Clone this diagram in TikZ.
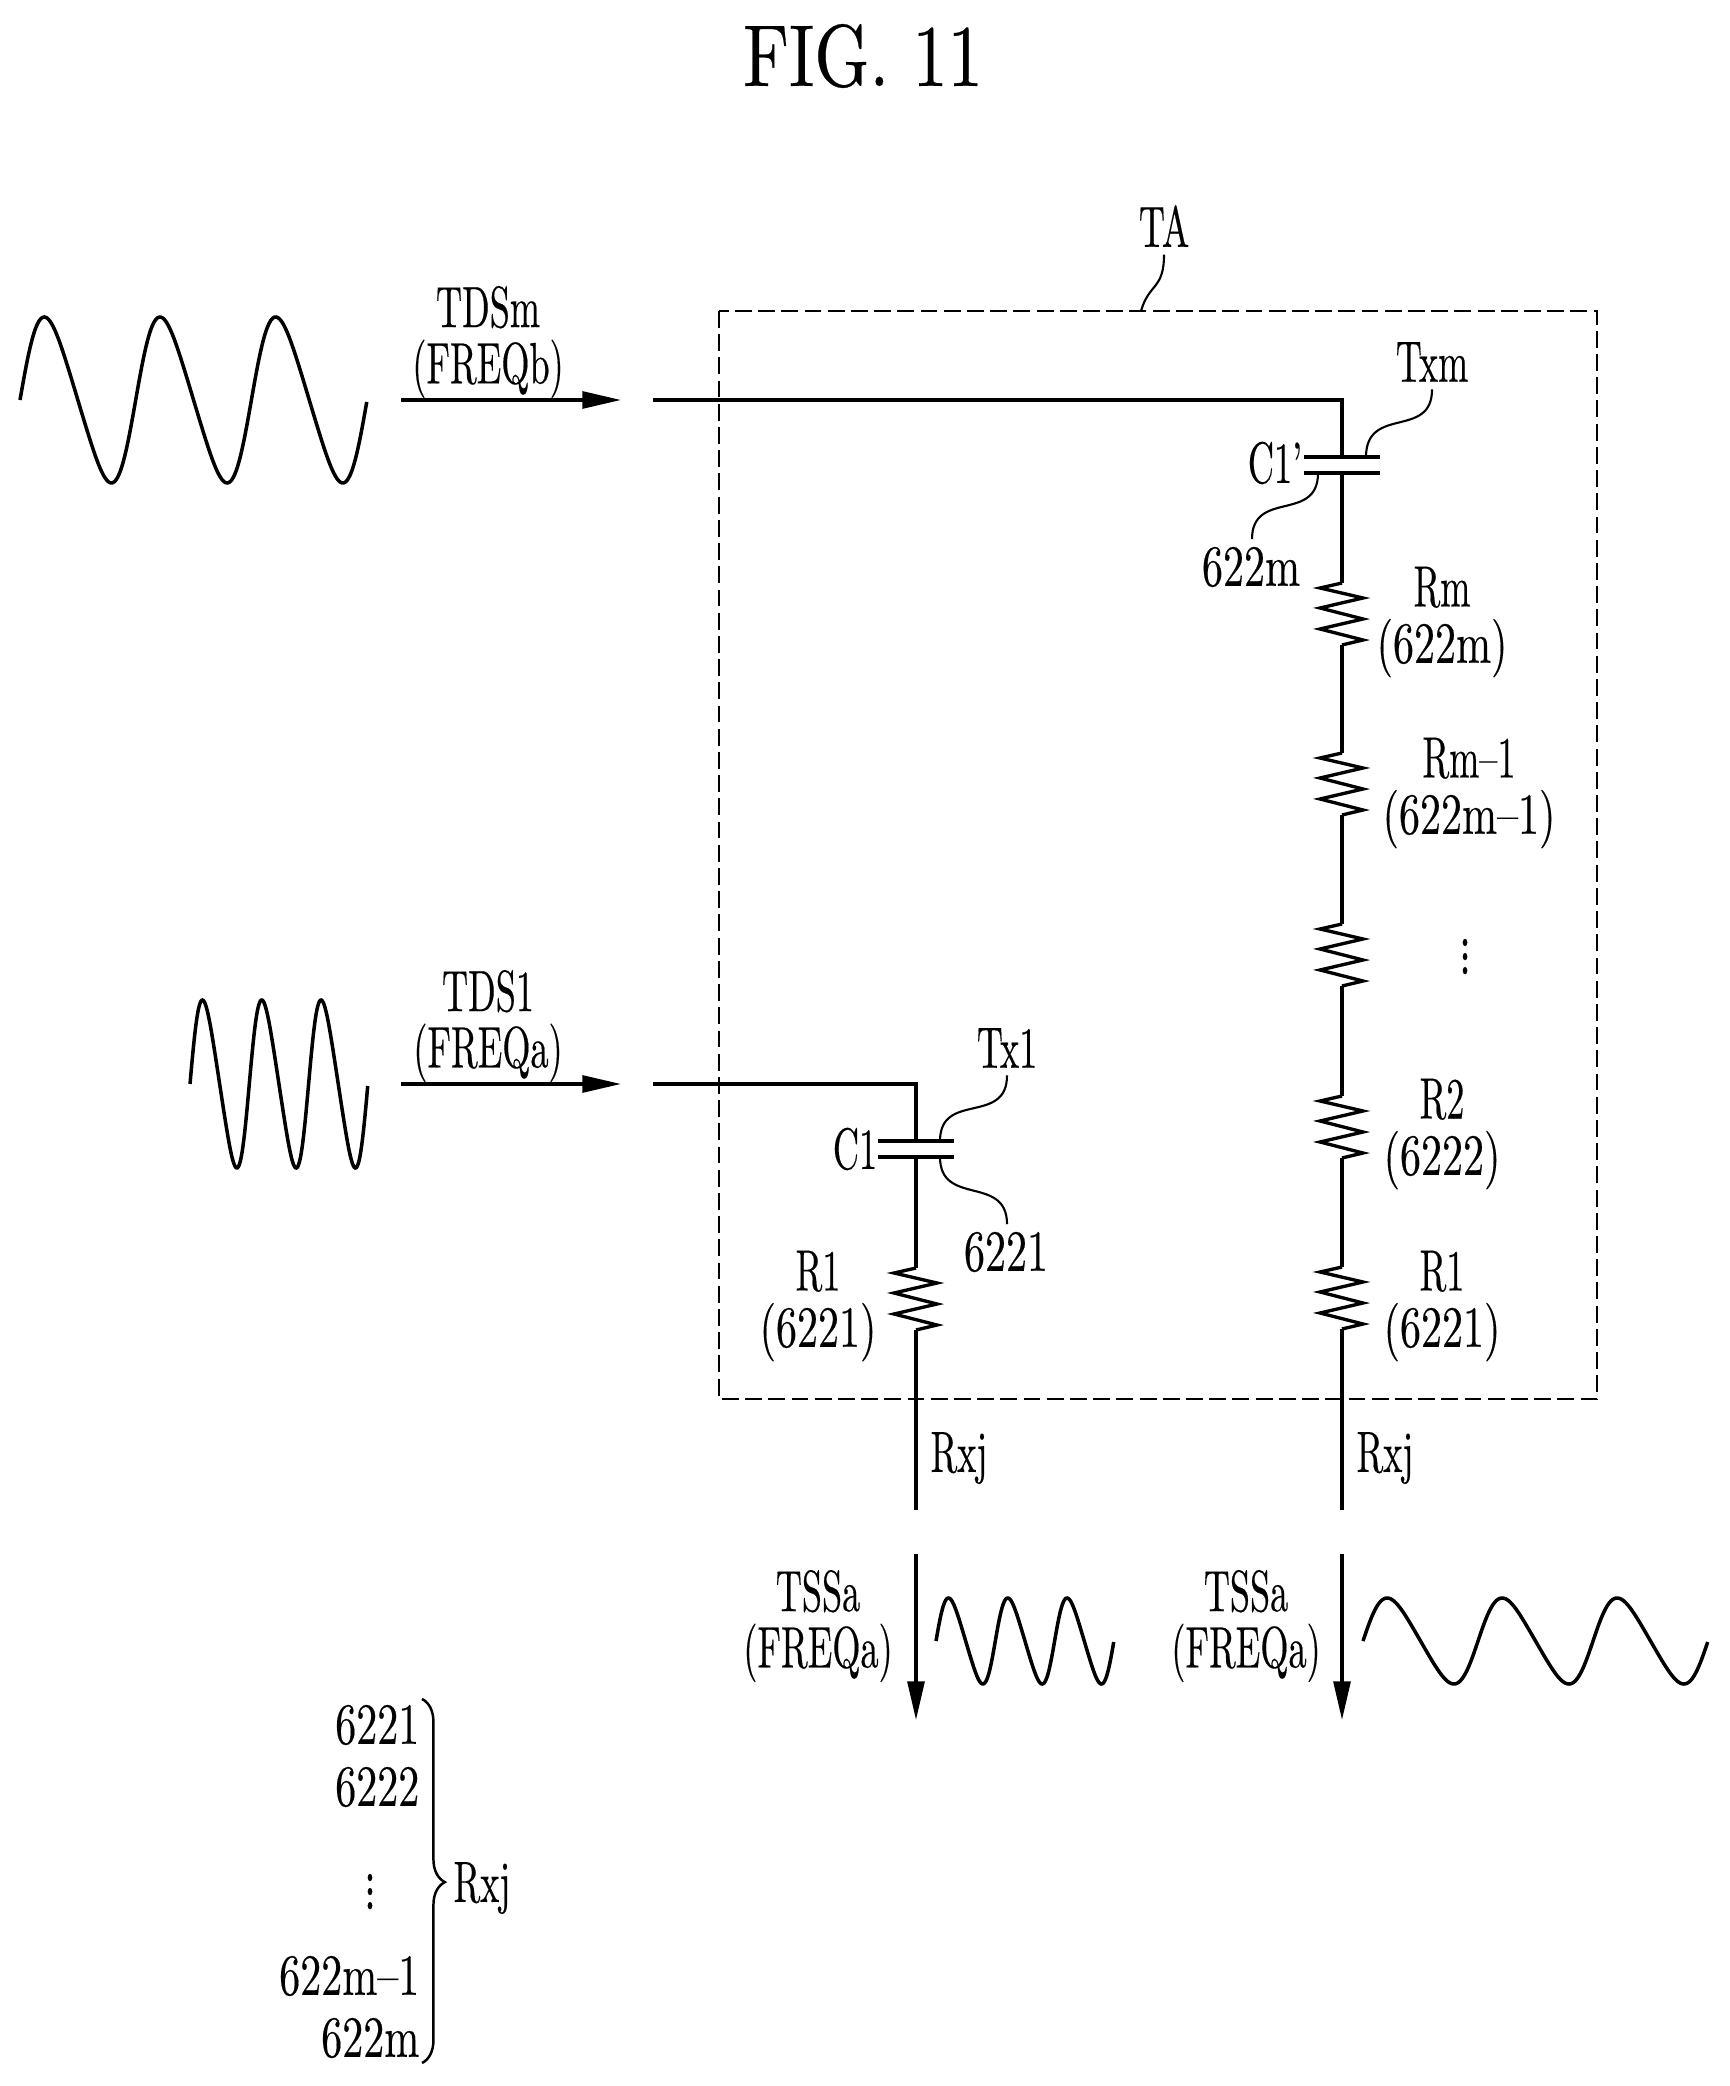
\documentclass[tikz,border=0pt]{standalone}
\usepackage{amsmath,amssymb}
\usepackage{fontspec}
\setmainfont{lmroman10-regular.otf}[FakeStretch=0.62,FakeBold=0.3,Ligatures=TeX]
\newfontfamily\numfont{lmroman10-regular.otf}[FakeStretch=0.72,FakeBold=0.3,Ligatures=TeX]
\newfontfamily\figfont{lmroman10-regular.otf}[FakeStretch=0.8,FakeBold=0.3]
\usetikzlibrary{arrows.meta,calc,decorations.pathreplacing,positioning}

\newcommand{\sinewave}[5]{\draw[sig] plot[variable=\t,domain=0:3,samples=200,smooth] ({#2+#4*\t},{#3-#5*sin(360*\t+15*sin(360*\t))}) coordinate (#1);}

\tikzset{
	wire/.style={line width=0.95pt,line join=miter},
	sig/.style={line width=1pt},
	lead/.style={line width=0.6pt},
	flow/.style={line width=0.95pt,-{Triangle[length=11pt,width=4.8pt]}},
	lab/.style={inner sep=0pt,align=center,font=\fontsize{16.6}{16}\selectfont},
	dotlab/.style={inner sep=0pt,font=\fontsize{19}{20}\selectfont},
	pics/resis/.style={code={
		\draw[wire] (0,0) coordinate (-in) -- (-22,5) -- (21,15) -- (-22,25) -- (21,36) -- (-22,46) -- (21,57) -- (0,62) coordinate (-out);
	}}
}

\begin{document}
\begin{tikzpicture}[x=0.01cm,y=-0.01cm]
						\useasboundingbox (0,0) rectangle (1729,2086);

						\node[lab,font=\fontsize{25}{26}\figfont] (title) at (863,56) {FIG. 11};

						\draw[line width=0.7pt,dash pattern=on 4.8pt off 1.8pt] (719,311) rectangle (1597,1399);
						\node[lab] (TA) at (1164,226) {TA};
						\coordinate (TAend) at (1141,311);
						\draw[lead] ($(TA.south)+(0,7)$) .. controls +(0,35) and +(8,-28) .. (TAend);

						\sinewave{waveb}{20}{400}{115.7}{83}
						\sinewave{wavea}{190}{1084}{59.3}{84}
						\sinewave{outa}{936}{1641}{59.3}{43}
						\sinewave{outb}{1363}{1641}{115}{43}

						\coordinate (inbS) at (401,400);
						\coordinate (inbE) at (621,400);
						\coordinate (inaS) at (401,1084);
						\coordinate (inaE) at (621,1084);
						\draw[flow] (inbS) -- (inbE);
						\draw[flow] (inaS) -- (inaE);
						\node[lab] (TDSm) at (488,342) {TDSm\\(FREQb)};
						\node[lab] (TDS1) at (488,1026) {TDS1\\(FREQa)};

						\coordinate (wbS) at (653,400);
						\coordinate (wbC) at (1342,400);
						\coordinate (capbT) at (1342,457);
						\coordinate (capbB) at (1342,473);
						\coordinate (waS) at (653,1084);
						\coordinate (waC) at (916,1084);
						\coordinate (capaT) at (916,1141);
						\coordinate (capaB) at (916,1157);
						\coordinate (endb) at (1342,1510);
						\coordinate (enda) at (916,1510);

						\draw[wire] (wbS) -- (wbC) -- (capbT);
						\draw[wire] (waS) -- (waC) -- (capaT);
						\draw[wire] (capbT) ++(-38,0) -- ++(76,0);
						\draw[wire] (capbB) ++(-38,0) -- ++(76,0);
						\draw[wire] (capaT) ++(-38,0) -- ++(76,0);
						\draw[wire] (capaB) ++(-38,0) -- ++(76,0);

						\foreach \n/\x/\y in {rm/1342/583,rn/1342/753,rk/1342/924,rb/1342/1096,ra/1342/1267,rl/916/1268}
							\pic (\n) at (\x,\y) {resis};

						\draw[wire] (capbB) -- (rm-in);
						\draw[wire] (rm-out) -- (rn-in);
						\draw[wire] (rn-out) -- (rk-in);
						\draw[wire] (rk-out) -- (rb-in);
						\draw[wire] (rb-out) -- (ra-in);
						\draw[wire] (ra-out) -- (endb);
						\draw[wire] (capaB) -- (rl-in);
						\draw[wire] (rl-out) -- (enda);

						\node[lab] (Txm) at (1432,362) {Txm};
						\node[lab] (Cb) at (1275,463) {C1’};
						\node[lab] (rfb) at (1251,567) {\numfont 622m};
						\coordinate (Txmend) at (1366,457);
						\coordinate (rfbend) at (1318,473);
						\draw[lead] ($(Txm.south)+(0,7)$) .. controls +(0,50) and +(0,-52) .. (Txmend);
						\draw[lead] (rfbend) .. controls +(0,50) and +(0,-50) .. ($(rfb.north)+(1,-7)$);

						\node[lab] (Rm) at (1442,622) {Rm\\{\numfont (622m)}};
						\node[lab] (Rn) at (1469,793) {Rm--1\\{\numfont (622m--1)}};
						\node[dotlab] (dotsr) at (1465,946) {$\vdots$};
						\node[lab] (Rb) at (1442,1134) {R2\\{\numfont (6222)}};
						\node[lab] (Ra) at (1442,1306) {R1\\{\numfont (6221)}};
						\node[lab] (Rl) at (818,1306) {R1\\{\numfont (6221)}};

						\node[lab] (Tx1) at (1007,1048) {Tx1};
						\node[lab] (Ca) at (855,1149) {C1};
						\node[lab] (rfa) at (1006,1252) {\numfont 6221};
						\coordinate (Tx1end) at (940,1141);
						\coordinate (rfaend) at (940,1157);
						\draw[lead] ($(Tx1.south)+(0,7)$) .. controls +(0,50) and +(0,-50) .. (Tx1end);
						\draw[lead] (rfaend) .. controls +(0,50) and +(0,-50) .. ($(rfa.north)+(1,-7)$);

						\node[lab] (Rxa) at (959,1458) {Rxj};
						\node[lab] (Rxb) at (1385,1458) {Rxj};

						\coordinate (outaS) at (916,1554);
						\coordinate (outaE) at (916,1720);
						\coordinate (outbS) at (1342,1554);
						\coordinate (outbE) at (1342,1720);
						\draw[flow] (outaS) -- (outaE);
						\draw[flow] (outbS) -- (outbE);
						\node[lab] (TSa) at (818,1626) {TSSa\\(FREQa)};
						\node[lab] (TSb) at (1246,1626) {TSSa\\(FREQa)};

						\foreach \n/\y/\t in {la/1725/6221,lb/1787/6222,lm/1976/622m--1,ln/2038/622m}
							\node[lab,anchor=east] (\n) at (420,\y) {\numfont \t};
						\node[dotlab] (dotsl) at (370,1881) {$\vdots$};

						\coordinate (brT) at (422,1699);
						\coordinate (brB) at (422,2063);
						\draw[line width=0.7pt,decorate,decoration={brace,amplitude=6.5pt,aspect=0.503}] (brT) -- (brB);
						\node[lab] (Rxl) at (482,1888) {Rxj};
					\end{tikzpicture}
\end{document}
